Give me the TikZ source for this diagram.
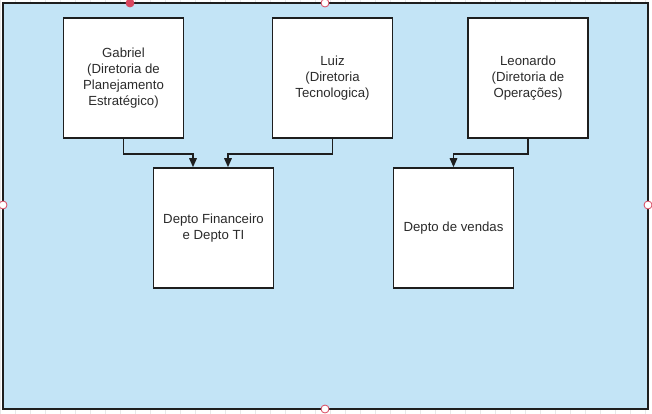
\documentclass[tikz,border=0pt]{standalone}
\usepackage{fontspec}
\setmainfont{Liberation Sans}
\usepackage{tikz}
\usepackage{xcolor}
\usetikzlibrary{arrows.meta}

\definecolor{canvasblue}{HTML}{C3E4F6}
\definecolor{boxline}{HTML}{1E1E1E}
\definecolor{txtgray}{HTML}{2B2B2B}
\definecolor{handlered}{HTML}{D9475F}

\begin{document}
\begin{tikzpicture}[x=1pt,y=-1pt]
			\useasboundingbox (0,0) rectangle (652,414);
			% faint grid of the canvas
			\draw[gray!18, line width=0.4pt, step=15] (0,0) grid (652,414);
			\fill[canvasblue] (3,3) rectangle (648,409);
			\draw[boxline, line width=2.2pt] (3,3) rectangle (648,409);
			
			\tikzstyle{every node}=[draw=boxline, fill=white, line width=1.6pt,
				minimum width=120pt, minimum height=120pt, align=center,
				text=txtgray, font=\fontsize{13.2pt}{16pt}\selectfont, inner sep=2pt]
			\node (gab) at (123.5,78) {Gabriel\\(Diretoria de\\Planejamento\\Estratégico)};
			\node (luiz) at (332.5,78) {Luiz\\ (Diretoria\\Tecnologica)};
			\node (leo) at (528,78) {Leonardo\\(Diretoria de\\Operações)};
			\node (fin) at (213.5,228) {Depto Financeiro\\e Depto TI};
			\node (vend) at (453.5,228) {Depto de vendas};
			
			\tikzstyle{every node}=[]
			\tikzstyle{link}=[draw=boxline, line width=1.6pt,
				-{Triangle[length=9pt,width=7.5pt]}]
			
			\coordinate (fin1) at ([xshift=-20.5pt]fin.north);
			\coordinate (fin2) at ([xshift=14.5pt]fin.north);
			\coordinate (vend1) at (vend.north);
			
			\draw[link] (gab.south) -- ++(0,15) -| (fin1);
			\draw[link] (luiz.south) -- ++(0,15) -| (fin2);
			\draw[link] (leo.south) -- ++(0,15) -| (vend1);
			
			% selection handles
			\tikzstyle{handle}=[draw=handlered, fill=white, line width=0.8pt]
			\filldraw[handle, fill=handlered] (130,3) circle (4);
			\filldraw[handle] (325,3) circle (4);
			\filldraw[handle] (3,205) circle (4);
			\filldraw[handle] (648,205) circle (4);
			\filldraw[handle] (325,409) circle (4);
		\end{tikzpicture}
\end{document}
